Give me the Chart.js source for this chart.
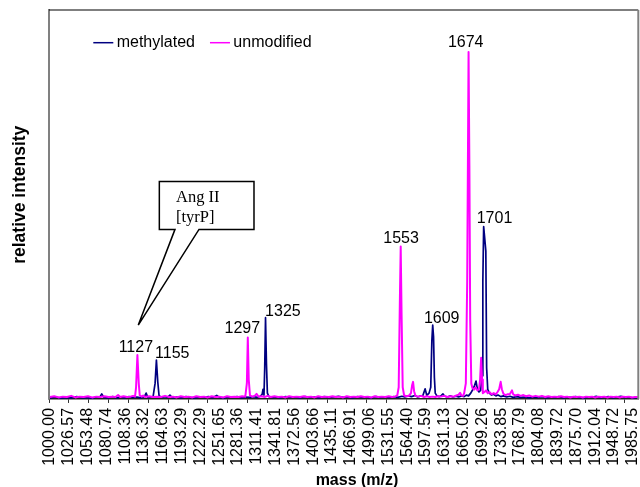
<!DOCTYPE html>
<html>
<head>
<meta charset="utf-8">
<script src="https://cdn.jsdelivr.net/npm/chart.js@4.4.1/dist/chart.umd.min.js"></script>
<style>
html,body{margin:0;padding:0;background:#ffffff;}
#wrap{position:relative;width:640px;height:487px;}
</style>
</head>
<body>
<div id="wrap"><canvas id="c"></canvas></div>
<script>
// ---- data ----
const tickLabels = ['1000.00','1026.57','1053.48','1080.74','1108.36','1136.32','1164.63','1193.29','1222.29','1251.65','1281.36','1311.41','1341.81','1372.56','1403.66','1435.11','1466.91','1499.06','1531.55','1564.40','1597.59','1631.13','1665.02','1699.26','1733.85','1768.79','1804.08','1839.72','1875.70','1912.04','1948.72','1985.75'];
const seriesNames = ['methylated', 'unmodified'];
// [mass (m/z), relative intensity]
const methylated = [
[1000,0.3],[1008,0.5],[1015,0.2],[1022,0.4],[1030,0.3],[1038,0.6],[1045,0.3],[1052,0.4],[1060,0.2],[1067,0.5],[1071,0.4],[1074,1.3],[1077,0.4],[1084,0.3],[1090,0.6],[1096,0.3],[1102,0.5],[1108,0.3],[1114,0.6],[1120,0.4],[1126,0.5],[1132,0.3],[1137,0.6],[1139.5,1.5],[1142,0.4],[1147,0.5],[1150,0.6],[1153,4.0],[1155,10.0],[1157,4.5],[1159,0.8],[1163,0.4],[1168,0.6],[1172,0.4],[1175.5,1.0],[1179,0.3],[1186,0.5],[1193,0.3],[1200,0.6],[1207,0.4],[1214,0.3],[1221,0.5],[1228,0.4],[1235,0.6],[1241,0.3],[1247.8,0.9],[1252,0.4],[1259,0.3],[1266,0.5],[1273,0.4],[1280,0.6],[1287,0.3],[1294,0.5],[1300,0.4],[1306,0.6],[1312,0.4],[1317,0.7],[1320,1.2],[1321.5,2.5],[1323,1.0],[1324.2,8.0],[1325.5,20.9],[1327,9.0],[1328.5,1.5],[1331,0.6],[1336,0.4],[1343,0.5],[1350,0.3],[1358,0.6],[1366,0.4],[1374,0.5],[1382,0.3],[1390,0.6],[1398,0.4],[1406,0.5],[1414,0.3],[1422,0.6],[1430,0.4],[1438,0.5],[1446,0.7],[1454,0.4],[1462,0.5],[1470,0.3],[1478,0.6],[1486,0.4],[1494,0.5],[1502,0.3],[1510,0.6],[1518,0.4],[1526,0.5],[1534,0.4],[1541,0.6],[1548,0.4],[1555,0.7],[1560,0.5],[1566,0.8],[1572,0.6],[1578,0.9],[1583,0.5],[1588,0.8],[1592,0.9],[1596,2.6],[1599,0.9],[1603,1.5],[1606,3.0],[1608,15.0],[1609.5,19.0],[1611,16.0],[1612.5,5.5],[1614,1.5],[1617,0.8],[1621,0.6],[1625,0.9],[1627.8,1.3],[1631,0.7],[1636,0.5],[1641,0.8],[1646,0.5],[1651,0.7],[1656,0.5],[1661,0.8],[1666,0.6],[1670,1.0],[1674,0.8],[1678,1.5],[1682,2.5],[1685,3.5],[1687.6,4.6],[1690,2.5],[1693,1.8],[1696,2.2],[1698.5,6.0],[1700,30.0],[1701.5,44.3],[1703,42.0],[1705.5,38.0],[1707,8.0],[1709,2.5],[1712,1.5],[1716,1.0],[1720,1.2],[1724,0.8],[1728,1.0],[1733,0.6],[1738,0.8],[1744,0.5],[1750,0.7],[1756,0.4],[1763,0.6],[1770,0.4],[1778,0.5],[1786,0.3],[1794,0.5],[1802,0.4],[1810,0.6],[1818,0.3],[1826,0.5],[1834,0.4],[1842,0.6],[1850,0.3],[1858,0.5],[1866,0.4],[1874,0.6],[1882,0.4],[1890,0.3],[1898,0.5],[1906,0.4],[1914,0.7],[1922,0.3],[1930,0.5],[1938,0.6],[1946,0.3],[1954,0.5],[1962,0.7],[1970,0.4],[1978,0.5],[1986,0.3],[1996,0.4]
];
const unmodified = [
[1000,0.5],[1006,0.7],[1012,0.4],[1018,0.6],[1024,0.5],[1030,0.8],[1036,0.4],[1042,0.6],[1048,0.5],[1054,0.7],[1060,0.4],[1066,0.6],[1072,0.5],[1078,0.7],[1084,0.5],[1090,0.6],[1094,0.5],[1097.9,1.0],[1101,0.5],[1106,0.7],[1111,0.5],[1116,0.6],[1120,0.8],[1123,0.6],[1124.5,3.0],[1126.5,11.3],[1128.5,4.0],[1130,0.9],[1133,0.6],[1135,0.9],[1138,0.5],[1144,0.7],[1150,0.5],[1156,0.6],[1162,0.5],[1168,0.8],[1174,0.5],[1180,0.6],[1186,0.4],[1192,0.7],[1198,0.5],[1204,0.6],[1210,0.4],[1216,0.7],[1222,0.5],[1228,0.6],[1234,0.4],[1240,0.7],[1246,0.5],[1252,0.6],[1258,0.4],[1264,0.7],[1270,0.5],[1276,0.6],[1282,0.5],[1288,0.7],[1293,0.6],[1295.5,4.0],[1297,15.8],[1298.5,5.0],[1300.5,0.9],[1304,0.6],[1308,0.8],[1311,1.3],[1314,0.6],[1319,0.7],[1324,0.5],[1329,0.8],[1334,0.5],[1340,0.7],[1346,0.5],[1352,0.6],[1358,0.4],[1364,0.7],[1370,0.5],[1376,0.6],[1382,0.5],[1388,0.7],[1394,0.5],[1400,0.6],[1406,0.4],[1412,0.7],[1418,0.5],[1424,0.6],[1430,0.5],[1436,0.7],[1442,0.5],[1448,0.6],[1454,0.4],[1460,0.7],[1466,0.5],[1472,0.6],[1478,0.5],[1484,0.7],[1490,0.5],[1496,0.6],[1502,0.4],[1508,0.7],[1514,0.5],[1520,0.6],[1526,0.5],[1532,0.7],[1538,0.5],[1543,0.6],[1547,0.9],[1549.5,3.0],[1551.5,25.0],[1553,39.2],[1554.5,22.0],[1556.5,3.0],[1559,0.9],[1564,0.7],[1568,0.9],[1571,1.5],[1573,3.5],[1574.7,4.4],[1576.5,2.0],[1579,0.8],[1584,0.6],[1589,0.8],[1594,0.5],[1599,0.7],[1604,0.5],[1609,0.6],[1614,0.5],[1619,0.7],[1624,0.6],[1630,0.8],[1636,0.5],[1642,0.7],[1647,0.6],[1652,0.9],[1656,1.1],[1658.6,1.6],[1661,0.9],[1664,0.8],[1666,1.5],[1669,4.0],[1671.5,30.0],[1674,89.2],[1675.5,60.0],[1677,20.0],[1679,4.0],[1681,2.8],[1684,2.4],[1687,3.0],[1690,2.2],[1693,2.5],[1695,5.0],[1696.9,10.6],[1698.5,5.0],[1700,1.5],[1703,1.8],[1706,2.2],[1709,1.5],[1712,1.8],[1716,1.2],[1720,1.5],[1724,1.2],[1727,1.8],[1730,2.5],[1732.8,4.4],[1735,2.5],[1738,1.3],[1742,1.0],[1746,1.2],[1750,1.3],[1753.8,2.2],[1756,1.2],[1760,0.9],[1765,1.1],[1770,0.8],[1775,1.0],[1780,0.7],[1786,0.9],[1792,0.6],[1798,0.8],[1804,0.6],[1810,0.8],[1816,0.5],[1822,0.7],[1828,0.5],[1834,0.6],[1840,0.5],[1846,0.7],[1852,0.5],[1858,0.6],[1864,0.4],[1870,0.6],[1876,0.5],[1882,0.6],[1888,0.4],[1894,0.6],[1900,0.5],[1906,0.6],[1912,0.4],[1918,0.6],[1924,0.5],[1930,0.6],[1936,0.4],[1942,0.6],[1948,0.5],[1954,0.6],[1960,0.4],[1966,0.6],[1972,0.5],[1978,0.6],[1984,0.4],[1990,0.5],[1996,0.5]
];
const peakLabels = ['1127', '1155', '1297', '1325', '1553', '1609', '1674', '1701'];
const calloutText = ['Ang II', '[tyrP]'];
const axisTitles = { x: 'mass (m/z)', y: 'relative intensity' };

// ---- helpers ----
const tickMass = tickLabels.map(Number);
// position of a mass on the category-style axis (index of tick label, fractional)
function massToPos(m) {
  let i = 0;
  while (i < tickMass.length - 2 && m > tickMass[i + 1]) i++;
  return i + (m - tickMass[i]) / (tickMass[i + 1] - tickMass[i]);
}
const toPoints = arr => arr.map(([m, v]) => ({ x: massToPos(m), y: v }));

const SANS = '"Liberation Sans", Arial, Helvetica, sans-serif';
const SERIF = '"Liberation Serif", "Times New Roman", serif';
Chart.defaults.font.family = SANS;
Chart.defaults.color = '#000';

const overlayPlugin = {
  id: 'overlay',
  afterDatasetsDraw(chart, args, opts) {
    const { ctx, chartArea: ca, scales } = chart;
    const px = m => scales.x.getPixelForValue(massToPos(m));
    const py = v => scales.y.getPixelForValue(v);
    ctx.save();
    // plot frame (top + right)
    ctx.lineWidth = 1.2; ctx.strokeStyle = '#000';
    ctx.beginPath(); ctx.moveTo(ca.left, ca.top); ctx.lineTo(ca.right, ca.top); ctx.stroke();
    ctx.lineWidth = 2; ctx.strokeStyle = '#808080';
    ctx.beginPath(); ctx.moveTo(ca.right, ca.top); ctx.lineTo(ca.right, ca.bottom); ctx.stroke();

    // peak labels
    ctx.fillStyle = '#000';
    ctx.font = '16px ' + SANS;
    ctx.textAlign = 'center';
    ctx.textBaseline = 'alphabetic';
    peakLabels.forEach((t, i) => {
      const [m, v] = opts.peakLabelAnchors[i];
      ctx.fillText(t, px(m), py(v));
    });

    // callout
    const c = opts.callout;
    const L = px(c.box[0]), R = px(c.box[1]), T = py(c.box[2]), B = py(c.box[3]);
    const b1 = px(c.base[0]), b2 = px(c.base[1]);
    const tx = px(c.tip[0]), ty = py(c.tip[1]);
    ctx.beginPath();
    ctx.moveTo(L, T); ctx.lineTo(R, T); ctx.lineTo(R, B); ctx.lineTo(b2, B);
    ctx.lineTo(tx, ty); ctx.lineTo(b1, B); ctx.lineTo(L, B); ctx.closePath();
    ctx.fillStyle = '#fff'; ctx.fill();
    ctx.lineWidth = 1.5; ctx.strokeStyle = '#000'; ctx.lineJoin = 'miter'; ctx.stroke();
    ctx.fillStyle = '#000';
    ctx.font = '16.5px ' + SERIF;
    ctx.textAlign = 'left';
    calloutText.forEach((t, i) => ctx.fillText(t, L + c.textInset, T + c.firstBaseline + i * c.lineGap));

    // legend (inside plot area, top-left)
    const lg = opts.legend;
    ctx.font = '16px ' + SANS;
    let x = ca.left + lg.left;
    const yLine = ca.top + lg.lineY, yText = ca.top + lg.textBaseline;
    lg.order.forEach(di => {
      const ds = chart.data.datasets[di];
      ctx.strokeStyle = ds.borderColor; ctx.lineWidth = 1.5;
      ctx.beginPath(); ctx.moveTo(x, yLine); ctx.lineTo(x + lg.lineLen, yLine); ctx.stroke();
      x += lg.lineLen + lg.textGap;
      ctx.fillStyle = '#000';
      ctx.fillText(ds.label, x, yText);
      x += ctx.measureText(ds.label).width + lg.itemGap;
    });
    ctx.restore();
  }
};

new Chart(document.getElementById('c'), {
  type: 'line',
  data: {
    datasets: [
      { label: seriesNames[0], data: toPoints(methylated), borderColor: '#000080', borderWidth: 1.7, order: 1 },
      { label: seriesNames[1], data: toPoints(unmodified), borderColor: '#FF00FF', borderWidth: 2, order: 0 }
    ]
  },
  options: {
    responsive: true,
    maintainAspectRatio: false,
    animation: false,
    devicePixelRatio: 1,
    events: [],
    parsing: false,
    elements: { point: { radius: 0 }, line: { tension: 0, borderJoinStyle: 'round' } },
    layout: { padding: { left: 6, top: 10, right: 1.7, bottom: -3 } },
    plugins: {
      legend: { display: false },
      tooltip: { enabled: false },
      overlay: {
        peakLabelAnchors: [[1124.2,12.2],[1179.0,10.5],[1288.2,17.0],[1353.7,21.3],[1553.7,40.2],[1625.5,19.6],[1668.8,90.6],[1721.5,45.2]],
        callout: { box: [1159.4, 1306.9, 55.9, 43.6], base: [1183.2, 1220.1], tip: [1127.8, 19.0], textInset: 16.7, firstBaseline: 20, lineGap: 20.5 },
        legend: { order: [0, 1], left: 44.3, lineY: 32.7, textBaseline: 37.3, lineLen: 20, textGap: 3.4, itemGap: 15 }
      }
    },
    scales: {
      x: {
        type: 'linear',
        position: 'bottom',
        min: -0.053,
        max: 31.29,
        weight: 0,
        grid: { display: false, drawTicks: false },
        border: { display: false },
        ticks: {
          stepSize: 1,
          includeBounds: false,
          autoSkip: false,
          minRotation: 90,
          maxRotation: 90,
          padding: 5,
          font: { size: 16, lineHeight: 0.1 },
          color: '#000',
          callback: v => (Number.isInteger(v) && tickLabels[v] !== undefined) ? tickLabels[v] : ''
        },
        title: { display: true, text: '      ' + axisTitles.x, font: { size: 16, weight: 'bold' }, color: '#000', padding: { top: 0, bottom: 0 } }
      },
      xTicks: {
        type: 'linear',
        position: 'bottom',
        min: 0,
        max: 29.67,
        weight: -1,
        grid: { display: true, drawOnChartArea: false, drawTicks: true, tickLength: 4, color: '#333', lineWidth: 1 },
        border: { display: true, color: '#222', width: 1.5 },
        ticks: { display: false, stepSize: 1, includeBounds: false }
      },
      y: {
        type: 'linear',
        min: 0,
        max: 100,
        grid: { display: false, drawTicks: false },
        border: { display: true, color: '#808080', width: 2 },
        ticks: { display: false },
        title: { display: true, text: '    ' + axisTitles.y, font: { size: 17.5, weight: 'bold' }, color: '#000', padding: { top: 4, bottom: 18 } }
      }
    }
  },
  plugins: [overlayPlugin]
});
</script>
</body>
</html>
